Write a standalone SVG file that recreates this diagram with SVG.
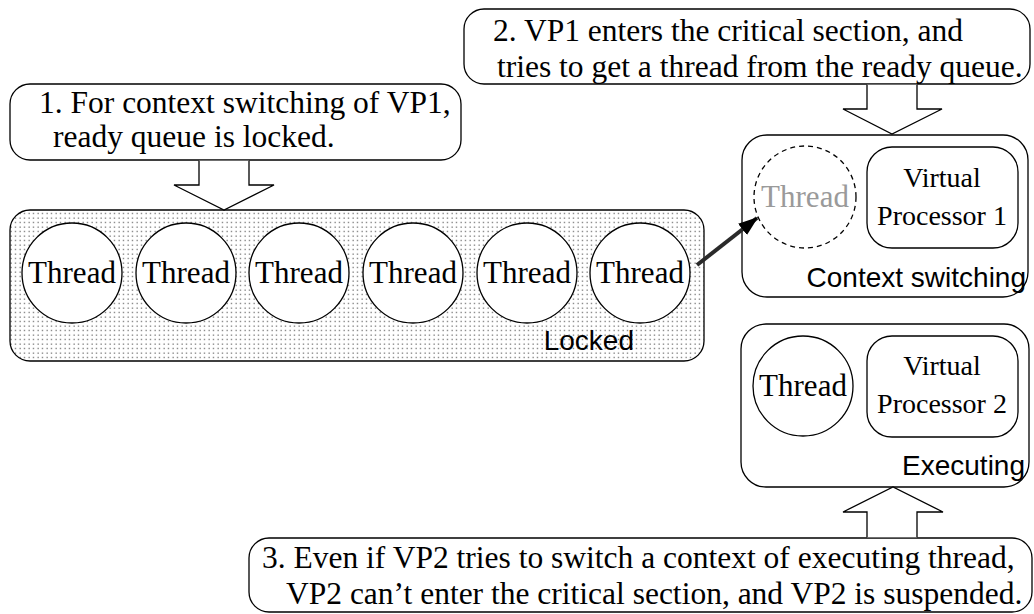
<svg xmlns="http://www.w3.org/2000/svg" width="1034" height="614" viewBox="0 0 1034 614">
<style>
.box{fill:#fff;stroke:#000;stroke-width:1.3}
.circ{fill:#fff;stroke:#000;stroke-width:1.3}
.blk{fill:#fff;stroke:#000;stroke-width:1.3;stroke-linejoin:miter}
.serif{font-family:"Liberation Serif","Times New Roman",serif;fill:#000}
.lbl{font-size:31.5px}
.th{font-size:31px;text-anchor:middle}
.vp{font-size:28px;text-anchor:middle}
.sans{font-family:"Liberation Sans",Arial,sans-serif;font-size:28px;fill:#000;text-anchor:end}
</style>
<defs>
<pattern id="dots" patternUnits="userSpaceOnUse" width="4.5" height="4.5">
<rect x="1.5" y="1.5" width="1.2" height="1.2" fill="#555"/>
</pattern>
<marker id="ah" markerWidth="5" markerHeight="3.6" refX="4.6" refY="1.8" orient="auto" markerUnits="strokeWidth">
<path d="M0,0 L5,1.8 L0,3.6 Z" fill="#000"/>
</marker>
</defs>

<g id="note1">
<rect class="box" x="10" y="84" width="451" height="76" rx="20"/>
<text class="serif lbl" x="39" y="113">1. For context switching of VP1,</text>
<text class="serif lbl" x="53" y="147">ready queue is locked.</text>
</g>

<g id="note2">
<rect class="box" x="464" y="9" width="566" height="75" rx="20"/>
<text class="serif lbl" x="493" y="41">2. VP1 enters the critical section, and</text>
<text class="serif lbl" x="497" y="77">tries to get a thread from the ready queue.</text>
</g>

<g id="queue">
<rect x="10" y="210" width="694" height="151" rx="20" fill="#fff" stroke="none"/>
<rect x="10" y="210" width="694" height="151" rx="20" fill="url(#dots)" stroke="#000" stroke-width="1.3"/>
<text class="sans" x="634" y="350">Locked</text>
</g>
<g id="thread1"><circle class="circ" cx="72" cy="273" r="50"/><text class="serif th" x="72" y="283">Thread</text></g>
<g id="thread2"><circle class="circ" cx="186" cy="273" r="50"/><text class="serif th" x="186" y="283">Thread</text></g>
<g id="thread3"><circle class="circ" cx="299" cy="273" r="50"/><text class="serif th" x="299" y="283">Thread</text></g>
<g id="thread4"><circle class="circ" cx="413" cy="273" r="50"/><text class="serif th" x="413" y="283">Thread</text></g>
<g id="thread5"><circle class="circ" cx="527" cy="273" r="50"/><text class="serif th" x="527" y="283">Thread</text></g>
<g id="thread6"><circle class="circ" cx="640" cy="273" r="50"/><text class="serif th" x="640" y="283">Thread</text></g>

<g id="ctxbox">
<rect class="box" x="742" y="135" width="286" height="162" rx="25"/>
<text class="sans" x="1026" y="287">Context switching</text>
</g>
<g id="ghostthread">
<circle cx="805" cy="197" r="51" fill="none" stroke="#000" stroke-width="1.3" stroke-dasharray="5,4"/>
<text class="serif th" x="805" y="207" style="fill:#9a9a9a">Thread</text>
</g>
<g id="vp1">
<rect class="box" x="867" y="147" width="151" height="101" rx="25"/>
<text class="serif vp" x="942" y="187">Virtual</text>
<text class="serif vp" x="942" y="225">Processor 1</text>
</g>

<g id="execbox">
<rect class="box" x="741" y="324" width="288" height="163" rx="25"/>
<text class="sans" x="1025" y="475">Executing</text>
</g>
<g id="thread7"><circle class="circ" cx="803" cy="386" r="50"/><text class="serif th" x="803" y="396">Thread</text></g>
<g id="vp2">
<rect class="box" x="867" y="336" width="151" height="101" rx="25"/>
<text class="serif vp" x="942" y="375">Virtual</text>
<text class="serif vp" x="942" y="413">Processor 2</text>
</g>

<g id="note3">
<rect class="box" x="249" y="538" width="783" height="74" rx="20"/>
<text class="serif lbl" x="262" y="568">3. Even if VP2 tries to switch a context of executing thread,</text>
<text class="serif lbl" x="286" y="604">VP2 can’t enter the critical section, and VP2 is suspended.</text>
</g>

<g id="connectors">
<path class="blk" d="M199,160.7 L199,185 L174,185 L224,210 L274,185 L249,185 L249,160.7"/>
<path class="blk" d="M867,84.7 L867,109 L843,109 L892,134 L942,109 L917,109 L917,84.7"/>
<path class="blk" d="M867,537.3 L867,512 L843,512 L893,487 L943,512 L917,512 L917,537.3"/>
<line x1="697" y1="265" x2="757" y2="218" stroke="#2a2a2a" stroke-width="4" marker-end="url(#ah)"/>
</g>
</svg>
